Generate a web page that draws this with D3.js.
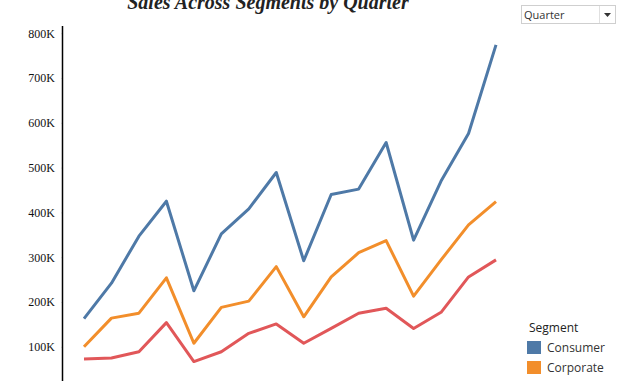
<!DOCTYPE html>
<html>
<head>
<meta charset="utf-8">
<script src="https://cdn.jsdelivr.net/npm/d3@7"></script>
<style>
  html, body { margin: 0; padding: 0; overflow: hidden; background: #fff; }
  svg { display: block; }
  .ticks text { font-family: "Liberation Serif", "DejaVu Serif", serif; font-size: 12px; fill: #111; }
  .legendText { font-family: "Open Sans", "Noto Sans", sans-serif; font-size: 12px; fill: #333; }
</style>
</head>
<body>
<svg id="chart"></svg>
<script>
const width = 618;
const height = 381;

const quarters = [
  "2015 Q1", "2015 Q2", "2015 Q3", "2015 Q4",
  "2016 Q1", "2016 Q2", "2016 Q3", "2016 Q4",
  "2017 Q1", "2017 Q2", "2017 Q3", "2017 Q4",
  "2018 Q1", "2018 Q2", "2018 Q3", "2018 Q4",
];
const consumer = [163, 242, 347, 425, 225, 352, 408, 489, 292, 440, 452, 556, 338, 470, 576, 774];
const corporate = [100, 164, 175, 254, 108, 188, 202, 279, 167, 256, 310, 337, 213, 294, 372, 424];
const homeOffice = [73, 75, 89, 154, 67, 89, 130, 151, 108, 141, 175, 186, 141, 177, 256, 294];
const yTicks = [0, 100, 200, 300, 400, 500, 600, 700, 800];

const ySeries = [
  { title: "Consumer", color: "#4e79a7", values: consumer },
  { title: "Corporate", color: "#f28e2b", values: corporate },
  { title: "Home Office", color: "#e15759", values: homeOffice },
];

const svg = d3.select("#chart").attr("width", width).attr("height", height);

const xScale = d3.scalePoint().domain(quarters).range([84, 496]);
const yScale = d3.scaleLinear().domain([0, 800]).range([391.6, 33.2]);

// title, partly cut at the top
svg
  .append("text")
  .attr("x", 268)
  .attr("y", 9)
  .attr("text-anchor", "middle")
  .style("font-family", "Liberation Serif, serif")
  .style("font-weight", "bold")
  .style("font-style", "italic")
  .style("font-size", "20px")
  .attr("fill", "#222")
  .text("Sales Across Segments by Quarter");

// y axis
const yAxis = svg
  .append("g")
  .attr("class", "yAxis ticks")
  .attr("transform", "translate(62,0)")
  .call(
    d3
      .axisLeft(yScale)
      .tickValues(yTicks)
      .tickSize(5)
      .tickPadding(2)
      .tickFormat((d) => `${d}K`)
  );
yAxis.select(".domain").remove();
yAxis.selectAll(".tick line").attr("stroke", "#e4e4e4").attr("x2", -1);
svg
  .append("line")
  .attr("x1", 62.5)
  .attr("x2", 62.5)
  .attr("y1", 26)
  .attr("y2", height)
  .attr("stroke", "#000")
  .attr("stroke-width", 1.5);

const lineGenerator = d3
  .line()
  .x((d, i) => xScale(quarters[i]))
  .y((d) => yScale(d));

svg
  .selectAll(".line-chart-line")
  .data(ySeries)
  .join("path")
  .attr("class", "line-chart-line")
  .attr("fill", "none")
  .attr("stroke", (d) => d.color)
  .attr("stroke-width", 3)
  .attr("stroke-linejoin", "round")
  .attr("d", (d) => lineGenerator(d.values));

// quarter dropdown
const dd = svg.append("g").attr("transform", "translate(521,5)");
dd.append("rect")
  .attr("x", 0.5)
  .attr("y", 0.5)
  .attr("width", 94)
  .attr("height", 18)
  .attr("fill", "#fff")
  .attr("stroke", "#cfcfcf");
dd.append("line")
  .attr("x1", 78.5)
  .attr("x2", 78.5)
  .attr("y1", 1)
  .attr("y2", 18)
  .attr("stroke", "#e0e0e0");
dd.append("text")
  .attr("x", 3)
  .attr("y", 13.5)
  .attr("class", "legendText")
  .style("font-size", "11px")
  .text("Quarter");
dd.append("path").attr("d", "M83,8 L90,8 L86.5,12 Z").attr("fill", "#333");

// legend
const legend = svg.append("g").attr("transform", "translate(527,0)");
legend
  .append("text")
  .attr("class", "legendText")
  .attr("x", 2)
  .attr("y", 332)
  .style("fill", "#222")
  .text("Segment");
const items = legend
  .selectAll(".legendItem")
  .data(ySeries)
  .join("g")
  .attr("class", "legendItem")
  .attr("transform", (d, i) => `translate(0, ${341 + i * 20})`);
items.append("rect").attr("width", 14).attr("height", 13).attr("fill", (d) => d.color);
items
  .append("text")
  .attr("class", "legendText")
  .attr("x", 20)
  .attr("y", 11)
  .text((d) => d.title);
</script>
</body>
</html>
